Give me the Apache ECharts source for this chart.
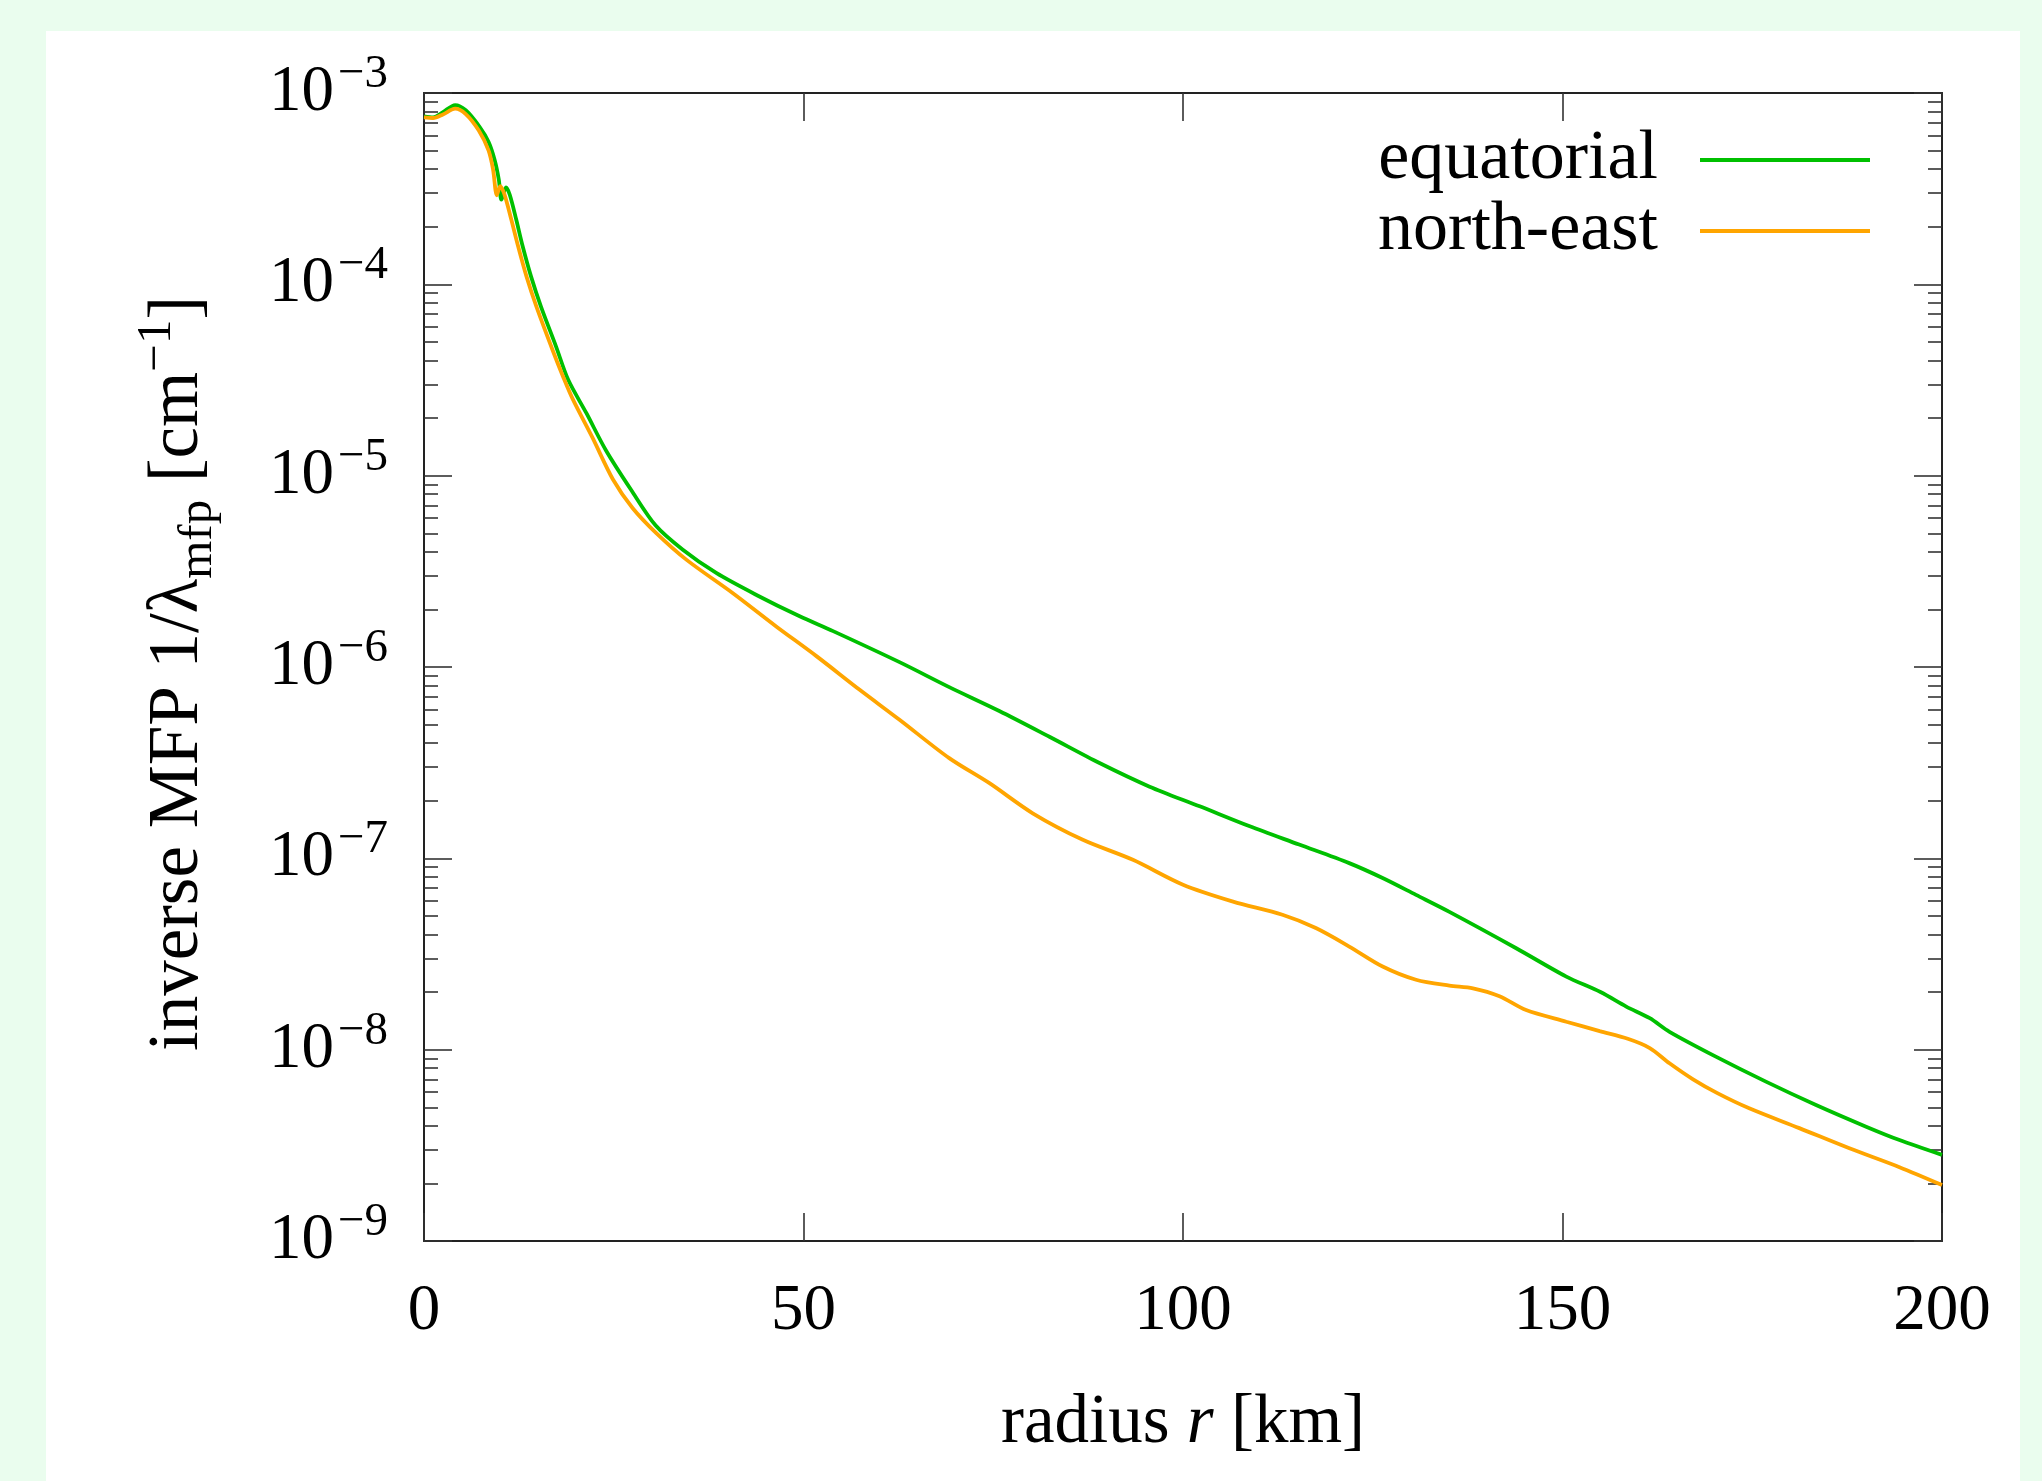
<!DOCTYPE html>
<html>
<head>
<meta charset="utf-8">
<script src="https://cdn.jsdelivr.net/npm/echarts@6/dist/echarts.min.js"></script>
<style>
  html, body { margin: 0; padding: 0; width: 2042px; height: 1481px; overflow: hidden; background: #eafdee; }
  #chart { position: absolute; left: 46px; top: 31px; width: 1974px; height: 1450px; background: #ffffff; }
</style>
</head>
<body>
<div id="chart"></div>
<script>
// Inverse mean free path profiles along two directions (radius in km, 1/lambda in cm^-1)
const radiusEquatorial = [0, 1.2, 2.5, 4.1, 5.5, 7.3, 8.5, 9.3, 9.86, 10.2, 10.8, 11.3, 12.15, 13.0, 14.1,
  15.4, 17.4, 19.0, 21.4, 24.0, 27.3, 30.5, 34.1, 38.5, 43.8, 49.5, 53.9, 62.65, 69.2, 75.8, 82.4, 89.0,
  95.6, 102.2, 108.8, 115.3, 121.9, 126.3, 130.7, 135.1, 143.9, 150.5, 155.0, 158.4, 161.5, 164.1, 170.2,
  176.8, 183.4, 190.0, 194.4, 200];
const mfpEquatorial = [7.55e-4, 7.45e-4, 7.94e-4, 8.65e-4, 8.13e-4, 6.68e-4, 5.56e-4, 4.48e-4, 3.52e-4,
  2.77e-4, 3.21e-4, 2.94e-4, 2.18e-4, 1.58e-4, 1.10e-4, 7.67e-5, 4.73e-5, 3.17e-5, 2.12e-5, 1.35e-5,
  8.41e-6, 5.50e-6, 4.10e-6, 3.10e-6, 2.38e-6, 1.84e-6, 1.54e-6, 1.06e-6, 7.85e-7, 5.89e-7, 4.32e-7,
  3.15e-7, 2.37e-7, 1.87e-7, 1.47e-7, 1.18e-7, 9.44e-8, 7.89e-8, 6.44e-8, 5.25e-8, 3.39e-8, 2.41e-8,
  2.00e-8, 1.68e-8, 1.46e-8, 1.24e-8, 9.20e-9, 6.81e-9, 5.14e-9, 3.96e-9, 3.37e-9, 2.82e-9];

const radiusNorthEast = [0, 1.2, 2.5, 4.1, 5.5, 7.2, 8.5, 9.1, 9.6, 10.04, 10.6, 11.5, 12.4, 13.5, 14.8,
  17.0, 18.3, 19.6, 22.2, 24.9, 27.5, 30.6, 34.6, 40.7, 46.4, 51.7, 57.4, 62.65, 69.2, 74.5, 80.2, 86.8,
  93.4, 100.0, 106.6, 113.1, 117.5, 121.9, 126.3, 130.7, 135.1, 138.2, 141.7, 145.2, 150.5, 154.9, 158.6,
  161.5, 164.1, 167.2, 170.4, 174.6, 181.2, 187.8, 194.4, 200];
const mfpNorthEast = [7.45e-4, 7.40e-4, 7.73e-4, 8.28e-4, 7.76e-4, 6.38e-4, 5.01e-4, 3.98e-4, 2.92e-4,
  3.26e-4, 2.95e-4, 2.18e-4, 1.58e-4, 1.10e-4, 7.67e-5, 4.47e-5, 3.31e-5, 2.51e-5, 1.58e-5, 9.55e-6,
  6.76e-6, 5.01e-6, 3.63e-6, 2.43e-6, 1.63e-6, 1.14e-6, 7.60e-7, 5.30e-7, 3.34e-7, 2.47e-7, 1.72e-7,
  1.25e-7, 9.82e-8, 7.28e-8, 5.94e-8, 5.07e-8, 4.32e-8, 3.46e-8, 2.72e-8, 2.32e-8, 2.16e-8, 2.09e-8,
  1.90e-8, 1.61e-8, 1.40e-8, 1.25e-8, 1.14e-8, 1.02e-8, 8.49e-9, 7.00e-9, 5.93e-9, 4.94e-9, 3.89e-9,
  3.05e-9, 2.43e-9, 1.96e-9];

const seriesNames = ['equatorial', 'north-east'];
const seriesColors = ['#00c000', '#ffa500'];

// Axis ticks
const radiusTicks = [0, 50, 100, 150, 200];
const decadeTicks = [1e-9, 1e-8, 1e-7, 1e-6, 1e-5, 1e-4, 1e-3];
const minorMultipliers = [2, 3, 4, 5, 6, 7, 8, 9];
const minorTicks = [];
decadeTicks.slice(0, -1).forEach(d => minorMultipliers.forEach(m => minorTicks.push(+(m * d).toPrecision(3))));

const FONT = '"Liberation Serif", "Times New Roman", serif';
const INK = '#000000';
const FRAME = '#222222';
const TICK = { color: '#333333', width: 1.6 };

// Four grids share one plotting box: data + left decades, top ticks + right decades,
// left minor ticks, right minor ticks.
const gridBox = { left: 378, top: 62, right: 78, bottom: 240, outerBoundsMode: 'none', containLabel: false };
const grids = [0, 1, 2, 3].map(() => Object.assign({}, gridBox));

const chart = echarts.init(document.getElementById('chart'), null, { renderer: 'canvas' });

const decadeLabel = v => {
  const e = Math.round(Math.log10(v));
  return '{m|10}{s|\u2212' + Math.abs(e) + '}';
};

const logY = (gridIndex, pos, ticks, len, withLine) => ({
  type: 'log', logBase: 10, gridIndex, position: pos,
  min: 1e-9, max: 1e-3,
  splitLine: { show: false },
  axisLine: { show: withLine, onZero: false, lineStyle: { color: FRAME, width: 2 } },
  axisTick: { show: true, inside: true, length: len, customValues: ticks, lineStyle: TICK },
  axisLabel: { show: false }
});

const yLeftMajor = Object.assign(logY(0, 'left', decadeTicks, 28, true), {
  axisLabel: {
    show: true, customValues: decadeTicks, margin: 36, formatter: decadeLabel,
    rich: {
      m: { fontFamily: FONT, fontSize: 65, lineHeight: 84, color: INK },
      s: { fontFamily: FONT, fontSize: 47, lineHeight: 47, color: INK, verticalAlign: 'top', padding: [0, 0, 0, 4] }
    }
  },
  name: '{a|inverse MFP 1/\u03bb}{b|mfp}{a| [cm}{c|\u22121}{a|]}',
  nameLocation: 'middle', nameRotate: 90, nameGap: 201,
  nameTextStyle: {
    padding: [0, 13, 0, 0],
    rich: {
      a: { fontFamily: FONT, fontSize: 71, lineHeight: 90, color: INK },
      b: { fontFamily: FONT, fontSize: 49, lineHeight: 49, color: INK, verticalAlign: 'bottom' },
      c: { fontFamily: FONT, fontSize: 49, lineHeight: 49, color: INK, verticalAlign: 'top' }
    }
  }
});

const xAxisFor = (gridIndex, pos, showIt) => ({
  type: 'value', gridIndex, position: pos, show: showIt,
  min: 0, max: 200, interval: 50,
  splitLine: { show: false },
  axisLine: { show: showIt, onZero: false, lineStyle: { color: FRAME, width: 2 } },
  axisTick: { show: showIt, inside: true, length: 28, lineStyle: TICK },
  axisLabel: { show: false }
});

const xBottom = Object.assign(xAxisFor(0, 'bottom', true), {
  axisLabel: {
    show: true, customValues: radiusTicks, margin: 38,
    fontFamily: FONT, fontSize: 65, color: INK, formatter: v => String(v)
  },
  name: '{a|radius }{i|r}{a| [km]}',
  nameLocation: 'middle', nameGap: 148,
  nameTextStyle: {
    rich: {
      a: { fontFamily: FONT, fontSize: 69, lineHeight: 69, color: INK },
      i: { fontFamily: FONT, fontSize: 69, lineHeight: 69, color: INK, fontStyle: 'italic' }
    }
  }
});

const lineSeries = (i, radii, values) => ({
  name: seriesNames[i],
  type: 'line',
  xAxisIndex: 0, yAxisIndex: 0,
  data: radii.map((r, k) => [r, values[k]]),
  showSymbol: false,
  smooth: 0.3,
  lineStyle: { color: seriesColors[i], width: 3.8 },
  itemStyle: { color: seriesColors[i] },
  emphasis: { disabled: true },
  z: 3 + i
});

chart.setOption({
  animation: false,
  backgroundColor: 'transparent',
  grid: grids,
  xAxis: [
    xBottom,
    xAxisFor(1, 'top', true),
    xAxisFor(2, 'bottom', false),
    xAxisFor(3, 'bottom', false)
  ],
  yAxis: [
    yLeftMajor,
    logY(1, 'right', decadeTicks, 28, true),
    logY(2, 'left', minorTicks, 14, false),
    logY(3, 'right', minorTicks, 14, false)
  ],
  legend: {
    show: true,
    data: seriesNames,
    orient: 'vertical',
    align: 'right',
    right: 150, top: 94,
    padding: 0,
    itemGap: 1,
    itemWidth: 170, itemHeight: 4,
    icon: 'rect',
    selectedMode: false,
    textStyle: { fontFamily: FONT, fontSize: 70, lineHeight: 70, color: INK, padding: [0, 37, 0, 0] }
  },
  tooltip: { show: false },
  series: [
    lineSeries(0, radiusEquatorial, mfpEquatorial),
    lineSeries(1, radiusNorthEast, mfpNorthEast)
  ]
});
</script>
</body>
</html>
